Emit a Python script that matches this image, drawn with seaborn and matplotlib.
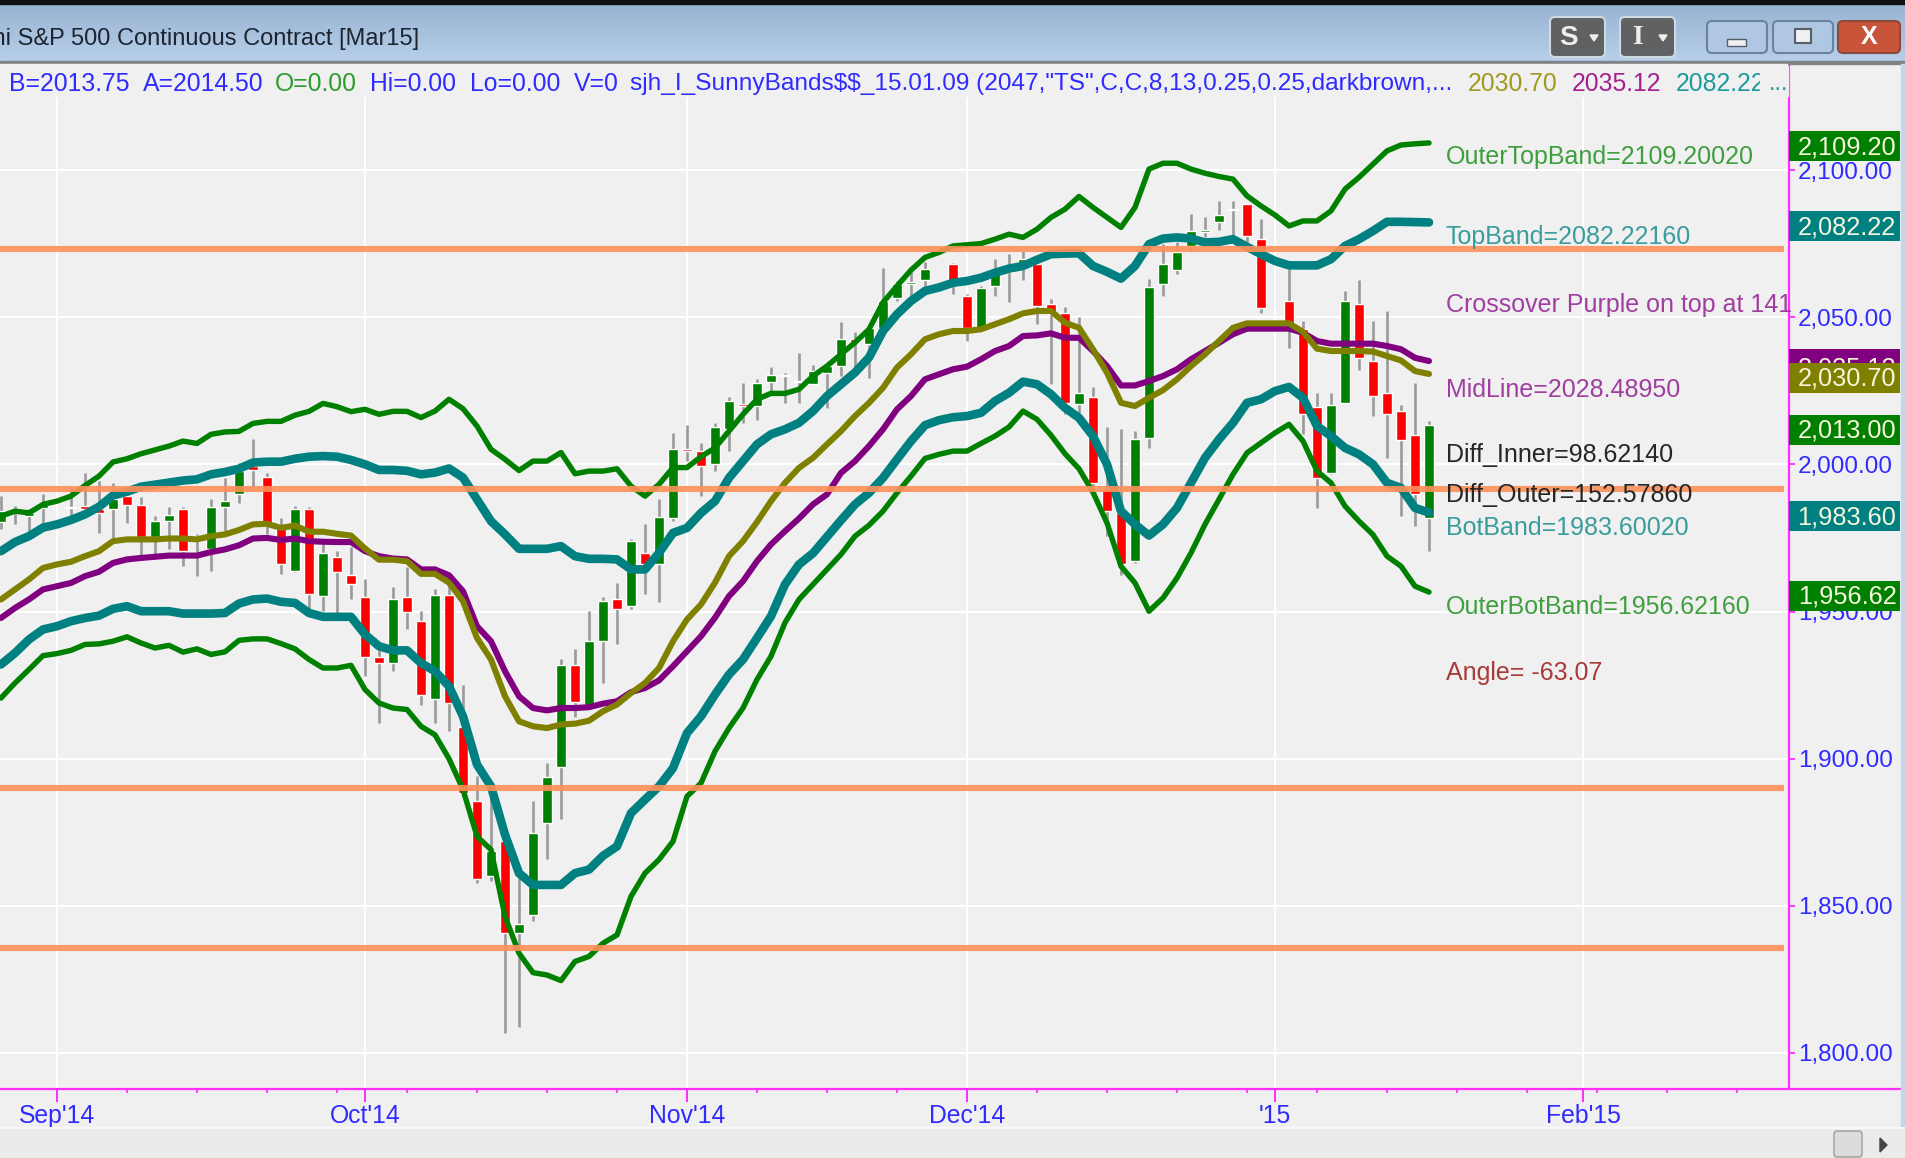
import numpy as np
import pandas as pd
import matplotlib
matplotlib.use('Agg')
import matplotlib.pyplot as plt
from matplotlib.patches import Rectangle, FancyBboxPatch
from matplotlib.ticker import FuncFormatter
import seaborn as sns

nan = float('nan')

# Bars run from index -4 to 98, index 0 is 1 Sep 2014 (no trading on 0, 63, 87)
first_bar = -4

opens = [
    1980.4, 1984.9, 1982.4, 1985.3, nan,
    1985.1, 1986.0, 1984.7, 1984.9, 1989.2, 1986.3, 1975.4, 1980.9, 1984.9, 1973.9,
    1971.1, 1985.6, 1989.8, 1999.4, 1995.8, 1979.0, 1963.9, 1984.9, 1955.2, 1968.5,
    1962.3, 1954.9, 1934.7, 1932.6, 1954.9, 1946.7, 1920.4, 1955.5, 1910.7, 1885.5,
    1860.0, 1871.9, 1840.7, 1846.9, 1878.2, 1897.3, 1931.7, 1918.4, 1940.1, 1954.2,
    1951.7, 1969.8, 1966.0, 1981.6, 2005.3, 2004.5, 2000.0, 2011.9, 2020.6, 2019.7,
    2027.9, 2030.4, 2028.3, 2027.4, 2031.2, 2033.3, 2042.7, 2040.8, 2046.2, 2056.4,
    2061.3, 2062.6, nan, 2068.0, 2057.1, 2046.4, 2060.6, 2065.3, 2067.4, 2068.0,
    2054.4, 2051.5, 2020.4, 2023.0, 1991.5, 1983.5, 1967.3, 2008.8, 2061.2, 2065.9,
    2074.2, 2079.1, 2082.4, 2086.9, 2088.3, 2076.7, nan, 2055.5, 2045.9, 2019.6,
    1997.2, 2021.0, 2054.4, 2035.1, 2024.3, 2018.1, 2009.9, 1981.6,
]
closes = [
    1984.1, 1984.1, 1983.5, 1987.0, nan,
    1985.5, 1984.9, 1983.5, 1988.1, 1986.3, 1975.4, 1980.7, 1982.8, 1970.7, 1975.6,
    1985.5, 1987.5, 1997.7, 1998.0, 1980.1, 1966.0, 1984.7, 1955.8, 1969.9, 1963.3,
    1959.2, 1934.7, 1932.5, 1954.2, 1949.7, 1921.8, 1955.5, 1919.0, 1888.3, 1859.2,
    1868.5, 1840.7, 1843.9, 1874.6, 1893.7, 1931.7, 1919.1, 1939.9, 1953.5, 1951.0,
    1973.9, 1966.0, 1982.1, 2005.2, 2004.7, 1999.3, 2012.7, 2021.5, 2019.7, 2027.6,
    2030.4, 2029.9, 2027.9, 2031.7, 2033.4, 2042.6, 2041.6, 2046.2, 2055.5, 2061.4,
    2061.8, 2066.4, nan, 2062.3, 2046.3, 2059.8, 2066.3, 2067.0, 2069.9, 2053.7,
    2051.0, 2020.9, 2024.3, 1993.7, 1984.3, 1966.0, 2008.7, 2060.4, 2068.0, 2072.0,
    2079.3, 2079.5, 2084.8, 2086.5, 2077.5, 2053.0, nan, 2048.1, 2017.0, 1995.2,
    2020.3, 2055.5, 2036.0, 2023.1, 2017.0, 2008.1, 1989.8, 2013.3,
]
highs = [
    1989.2, 1985.8, 1984.7, 1989.8, nan,
    1992.1, 1997.2, 1994.3, 1993.8, 1992.1, 1989.0, 1982.4, 1985.6, 1985.6, 1976.2,
    1988.3, 1995.5, 2000.6, 2008.7, 1997.2, 1981.9, 1986.0, 1985.6, 1973.3, 1970.5,
    1971.9, 1960.9, 1937.1, 1958.3, 1965.0, 1950.1, 1957.5, 1958.6, 1924.9, 1894.0,
    1890.6, 1873.0, 1859.4, 1885.5, 1898.5, 1933.9, 1937.1, 1950.1, 1955.0, 1959.8,
    1974.7, 1979.6, 1988.3, 2010.7, 2013.3, 2007.3, 2014.1, 2023.0, 2027.7, 2029.1,
    2033.2, 2031.1, 2037.9, 2033.8, 2033.6, 2048.2, 2044.8, 2047.6, 2066.6, 2062.3,
    2066.9, 2068.6, nan, 2068.5, 2057.8, 2060.6, 2069.9, 2071.4, 2072.5, 2070.8,
    2056.3, 2053.6, 2050.1, 2026.4, 2012.8, 2012.1, 2011.3, 2062.9, 2074.8, 2075.4,
    2085.0, 2084.2, 2089.5, 2089.5, 2088.4, 2083.5, nan, 2066.3, 2048.7, 2024.3,
    2024.3, 2058.9, 2062.5, 2048.7, 2052.1, 2020.0, 2027.7, 2014.7,
]
lows = [
    1978.1, 1979.6, 1975.6, 1979.0, nan,
    1981.9, 1984.7, 1976.8, 1974.5, 1980.1, 1968.8, 1968.8, 1971.3, 1965.4, 1962.0,
    1963.9, 1977.3, 1987.0, 1992.1, 1976.2, 1962.6, 1963.4, 1950.7, 1950.1, 1949.5,
    1954.3, 1928.0, 1912.1, 1929.9, 1944.1, 1918.4, 1912.1, 1909.5, 1887.0, 1857.7,
    1858.3, 1806.7, 1808.7, 1844.7, 1865.9, 1879.5, 1914.2, 1917.8, 1925.7, 1938.8,
    1950.9, 1955.8, 1953.2, 1980.7, 2001.1, 1989.1, 1997.9, 2004.7, 2014.1, 2014.9,
    2024.3, 2020.9, 2020.9, 2027.2, 2019.0, 2030.0, 2032.9, 2029.2, 2045.9, 2055.5,
    2056.7, 2060.1, nan, 2057.8, 2041.9, 2045.9, 2057.2, 2055.0, 2062.7, 2047.6,
    2027.2, 2017.0, 2017.5, 1991.5, 1975.6, 1962.5, 1966.5, 2005.4, 2057.2, 2064.6,
    2072.5, 2077.4, 2079.5, 2077.1, 2075.4, 2051.5, nan, 2039.4, 2010.2, 1985.0,
    1996.6, 2020.9, 2031.9, 2016.4, 2002.0, 1982.4, 1979.0, 1970.7,
]

outer_top = [
    1982.4, 1984.1, 1983.5, 1986.4, 1987.5,
    1989.2, 1992.8, 1996.0, 2000.8, 2001.9, 2003.6, 2004.9, 2006.2, 2007.9, 2007.1,
    2010.2, 2011.0, 2011.2, 2013.9, 2014.6, 2014.6, 2016.7, 2018.0, 2020.7, 2019.6,
    2017.9, 2018.7, 2017.0, 2018.0, 2018.0, 2015.9, 2018.1, 2022.1, 2018.9, 2013.0,
    2005.1, 2001.7, 1997.9, 2001.1, 2001.1, 2004.0, 1996.8, 1997.7, 1997.7, 1998.5,
    1992.6, 1989.2, 1993.2, 1998.9, 1998.9, 2002.6, 2005.6, 2011.3, 2017.0, 2022.1,
    2024.1, 2024.1, 2025.5, 2030.0, 2033.4, 2037.4, 2041.4, 2045.9, 2055.0, 2060.6,
    2066.0, 2070.3, 2072.0, 2074.2, 2074.6, 2075.0, 2076.5, 2078.2, 2077.1, 2079.9,
    2083.9, 2086.7, 2091.0, 2087.3, 2083.9, 2080.5, 2087.3, 2100.3, 2102.3, 2102.3,
    2100.3, 2098.9, 2097.8, 2096.9, 2091.2, 2087.8, 2084.7, 2081.0, 2082.7, 2082.7,
    2086.1, 2093.5, 2097.5, 2102.0, 2106.5, 2108.5, 2108.9, 2109.2,
]
top_band = [
    1970.5, 1973.6, 1975.6, 1978.5, 1979.6,
    1981.1, 1983.0, 1985.6, 1989.4, 1990.7, 1992.4, 1993.1, 1993.8, 1994.5, 1994.9,
    1996.6, 1997.4, 1998.5, 2000.6, 2000.9, 2000.9, 2001.9, 2002.6, 2002.8, 2002.6,
    2001.5, 2000.0, 1998.1, 1998.1, 1997.8, 1996.6, 1997.2, 1998.6, 1995.5, 1988.1,
    1980.7, 1976.2, 1971.3, 1971.3, 1971.3, 1972.2, 1968.8, 1967.9, 1967.9, 1967.7,
    1964.3, 1964.3, 1969.9, 1976.7, 1978.4, 1983.5, 1987.5, 1995.4, 2001.1, 2006.8,
    2010.2, 2011.9, 2014.1, 2018.1, 2023.2, 2027.2, 2031.2, 2036.3, 2045.3, 2051.0,
    2055.5, 2058.9, 2060.1, 2061.7, 2062.3, 2063.4, 2065.1, 2066.5, 2067.4, 2069.5,
    2071.4, 2071.6, 2071.7, 2067.4, 2065.4, 2063.1, 2067.4, 2074.8, 2076.7, 2077.1,
    2076.7, 2075.4, 2075.6, 2076.5, 2073.9, 2071.4, 2069.1, 2067.6, 2067.6, 2067.6,
    2069.7, 2074.2, 2076.5, 2079.3, 2082.4, 2082.4, 2082.3, 2082.2,
]
olive_line = [
    1954.1, 1957.5, 1960.9, 1964.8, 1966.0,
    1966.9, 1968.8, 1970.5, 1973.9, 1974.5, 1974.5, 1974.5, 1974.8, 1974.8, 1974.5,
    1975.6, 1976.2, 1977.7, 1979.6, 1979.8, 1978.4, 1979.2, 1977.1, 1977.1, 1976.4,
    1975.8, 1971.4, 1967.6, 1967.6, 1967.1, 1962.8, 1962.8, 1959.8, 1953.5, 1941.0,
    1933.7, 1921.2, 1912.7, 1911.0, 1910.4, 1911.6, 1911.9, 1912.9, 1916.1, 1918.4,
    1922.3, 1925.7, 1930.8, 1939.9, 1947.3, 1952.4, 1959.8, 1968.8, 1973.9, 1980.4,
    1987.5, 1993.7, 1998.8, 2002.2, 2006.8, 2011.3, 2016.4, 2020.9, 2026.0, 2032.9,
    2037.4, 2042.5, 2044.2, 2045.3, 2045.3, 2045.9, 2047.6, 2049.3, 2051.3, 2052.1,
    2052.1, 2048.1, 2046.4, 2039.1, 2031.1, 2020.9, 2019.8, 2022.6, 2025.2, 2028.9,
    2033.4, 2037.4, 2041.9, 2046.4, 2047.9, 2047.9, 2047.9, 2047.9, 2045.0, 2039.3,
    2038.5, 2038.5, 2038.5, 2038.3, 2036.8, 2035.3, 2031.7, 2030.7,
]
mid_line = [
    1947.8, 1951.2, 1954.1, 1957.5, 1958.6,
    1959.7, 1962.0, 1963.5, 1966.5, 1967.7, 1968.2, 1968.6, 1969.0, 1969.0, 1969.0,
    1970.2, 1971.1, 1972.5, 1974.8, 1975.0, 1974.3, 1974.8, 1973.9, 1973.7, 1973.6,
    1973.6, 1970.5, 1968.8, 1968.0, 1967.7, 1964.3, 1964.3, 1962.3, 1956.9, 1945.0,
    1939.9, 1929.7, 1921.2, 1917.2, 1916.4, 1917.2, 1917.2, 1917.5, 1918.7, 1919.5,
    1922.6, 1924.0, 1926.6, 1931.4, 1936.5, 1941.6, 1947.9, 1955.2, 1960.3, 1967.1,
    1972.8, 1977.3, 1981.6, 1986.4, 1989.8, 1997.1, 2001.1, 2006.2, 2011.9, 2018.7,
    2023.2, 2028.9, 2030.6, 2032.3, 2033.2, 2035.7, 2038.5, 2040.2, 2043.6, 2043.8,
    2044.5, 2043.0, 2043.0, 2038.5, 2033.4, 2026.8, 2026.8, 2028.3, 2030.0, 2032.3,
    2035.7, 2038.5, 2041.3, 2044.2, 2046.1, 2046.1, 2046.1, 2046.1, 2044.7, 2041.9,
    2041.0, 2041.0, 2041.0, 2041.0, 2040.2, 2039.1, 2036.2, 2035.1,
]
bot_band = [
    1932.0, 1935.9, 1940.5, 1943.9, 1945.0,
    1946.7, 1947.8, 1948.6, 1950.9, 1951.8, 1950.1, 1950.1, 1950.1, 1949.3, 1949.3,
    1949.3, 1949.5, 1952.7, 1954.1, 1954.4, 1953.3, 1952.9, 1949.5, 1948.2, 1948.2,
    1948.2, 1942.2, 1938.2, 1936.8, 1936.8, 1932.5, 1929.7, 1924.6, 1914.4, 1898.0,
    1890.6, 1874.2, 1861.1, 1857.1, 1857.1, 1857.1, 1861.1, 1862.3, 1867.0, 1870.2,
    1881.5, 1886.1, 1890.6, 1896.8, 1908.7, 1914.4, 1921.8, 1928.6, 1933.7, 1941.0,
    1948.4, 1959.2, 1966.0, 1969.8, 1975.4, 1981.0, 1986.4, 1990.3, 1995.4, 2001.7,
    2007.9, 2013.3, 2015.0, 2016.0, 2016.4, 2017.5, 2021.5, 2024.3, 2028.1, 2027.2,
    2023.8, 2019.2, 2015.8, 2009.6, 2000.0, 1984.1, 1979.6, 1975.8, 1979.6, 1985.2,
    1993.7, 2002.2, 2008.5, 2014.1, 2020.9, 2022.1, 2024.9, 2026.3, 2022.6, 2013.0,
    2009.6, 2005.6, 2003.4, 2000.0, 1993.7, 1992.0, 1985.2, 1983.6,
]
outer_bot = [
    1920.6, 1925.7, 1930.3, 1935.0, 1935.7,
    1936.8, 1938.8, 1939.0, 1939.9, 1941.4, 1939.3, 1937.6, 1938.5, 1936.2, 1937.3,
    1935.4, 1936.3, 1940.2, 1940.7, 1940.7, 1939.1, 1937.3, 1933.7, 1930.8, 1930.8,
    1931.7, 1923.5, 1918.9, 1917.2, 1916.7, 1911.0, 1908.1, 1900.0, 1889.5, 1873.6,
    1869.1, 1846.4, 1833.9, 1827.3, 1826.5, 1824.6, 1831.1, 1832.8, 1837.3, 1840.1,
    1853.2, 1861.1, 1865.7, 1871.9, 1887.2, 1891.7, 1902.5, 1910.4, 1917.2, 1926.9,
    1934.8, 1946.2, 1954.1, 1959.2, 1964.3, 1969.4, 1975.6, 1979.3, 1984.1, 1990.3,
    1996.0, 2002.0, 2003.4, 2004.5, 2004.5, 2007.1, 2009.6, 2012.7, 2018.1, 2015.3,
    2009.9, 2003.6, 1998.5, 1990.5, 1980.1, 1965.4, 1959.7, 1950.1, 1954.6, 1961.4,
    1969.9, 1979.6, 1988.1, 1996.6, 2003.9, 2007.3, 2010.7, 2013.6, 2007.9, 1997.7,
    1993.7, 1985.8, 1980.7, 1976.1, 1968.8, 1965.4, 1958.6, 1956.6,
]

support_levels = [2073.1, 1991.5, 1890.1, 1835.7]

price_ticks = [1800, 1850, 1900, 1950, 2000, 2050, 2100]
month_bars = [0, 22, 45, 65, 87, 109]
month_labels = ["Sep'14", "Oct'14", "Nov'14", "Dec'14", "'15", "Feb'15"]
minor_bars = list(range(0, 125, 5))

last_values = [2035.12, 2030.70, 2109.20, 2082.22, 2013.00, 1983.60, 1956.62]
last_colors = ['#800080', '#808000', '#008000', '#008080', '#008000', '#008080', '#008000']

FW, FH = 1905, 1158
AX_RIGHT, AX_TOP, AX_BOTTOM = 1789, 64, 1089
BG = '#f0f0f0'
MAGENTA = '#ff2dff'
BLUE = '#2f2aff'
FONT = 'Liberation Sans'

sns.set_theme(style='white')
plt.rcParams['font.family'] = FONT

fig = plt.figure(figsize=(FW / 100, FH / 100), dpi=100, facecolor=BG)
ax = fig.add_axes([0, 1 - AX_BOTTOM / FH, AX_RIGHT / FW, (AX_BOTTOM - AX_TOP) / FH], facecolor=BG)

bars = np.arange(first_bar, first_bar + len(closes))
candles = pd.DataFrame({'bar': bars, 'open': opens, 'close': closes, 'high': highs, 'low': lows}).dropna()

# wicks, then bodies
ax.vlines(candles['bar'], candles['low'], candles['high'], color='#9a9a9a', lw=1.9, zorder=2)
up = candles['close'] >= candles['open']
body_colors = np.where(up, '#008000', '#ff0000')
ax.bar(candles['bar'], (candles['close'] - candles['open']).abs(),
       bottom=candles[['open', 'close']].min(axis=1), width=0.76, color=body_colors, zorder=3)

bands = [
    (outer_top, '#008000', 3.9),
    (outer_bot, '#008000', 3.9),
    (mid_line, '#800080', 4.4),
    (olive_line, '#808000', 4.4),
    (top_band, '#008080', 6.2),
    (bot_band, '#008080', 6.2),
]
for values, color, width in bands:
    df = pd.DataFrame({'bar': bars, 'price': values})
    sns.lineplot(data=df, x='bar', y='price', ax=ax, color=color, lw=width, zorder=4,
                 estimator=None, sort=False, solid_capstyle='round')

for level in support_levels:
    ax.axhline(level, xmin=0, xmax=1784 / AX_RIGHT, color='#ff9058', alpha=0.9, lw=4.4, zorder=5,
               solid_capstyle='butt')

ax.set_xlim(-57 / 14, (AX_RIGHT - 57) / 14)
ax.set_ylim(1800 - (AX_BOTTOM - 1053) / 2.943, 2100 + (170 - AX_TOP) / 2.943)
ax.set_xlabel('')
ax.set_ylabel('')

ax.set_axisbelow(True)
ax.set_yticks(price_ticks)
ax.yaxis.set_major_formatter(FuncFormatter(lambda v, _: f'{v:,.2f}'))
ax.yaxis.tick_right()
ax.set_xticks(month_bars)
ax.set_xticklabels(month_labels)
ax.set_xticks(minor_bars, minor=True)
ax.grid(True, which='major', color='white', lw=1.5)
ax.tick_params(axis='y', which='major', length=4.5, width=1.3, color=MAGENTA, labelcolor=BLUE,
               labelsize=17.5, pad=2, right=True, left=False)
ax.tick_params(axis='x', which='major', length=9.5, width=1.4, color=MAGENTA, labelcolor=BLUE,
               labelsize=17.8, pad=1, bottom=True)
ax.tick_params(axis='x', which='minor', length=3, width=1.2, color=MAGENTA, bottom=True)
for side in ['left', 'top']:
    ax.spines[side].set_visible(False)
for side in ['right', 'bottom']:
    ax.spines[side].set_visible(True)
    ax.spines[side].set_color(MAGENTA)
    ax.spines[side].set_linewidth(1.6)

# last value boxes on the price scale
trans = ax.get_yaxis_transform()
for n, (value, color) in enumerate(zip(last_values, last_colors)):
    centre = value - 1.2
    ax.add_patch(Rectangle((1.0, centre - 5.1), 111 / AX_RIGHT, 10.2, transform=trans, facecolor=color,
                           edgecolor='none', clip_on=False, zorder=6 + n * 0.1))
    label = ax.text(1847 / AX_RIGHT, centre - 0.4, f'{value:,.2f}', transform=trans, color='#f6f6dc',
                    fontsize=18.3, ha='center', va='center', zorder=6.05 + n * 0.1)
    if n == 0:
        # this one sits half hidden under the next box
        label.set_y(centre - 1.4)

# window chrome, header and study text, in pixel coordinates
chrome = fig.add_axes([0, 0, 1, 1], zorder=5)
chrome.set_axis_off()
chrome.patch.set_alpha(0)
gradient = np.linspace(0, 1, 60).reshape(-1, 1)
cmap = matplotlib.colors.LinearSegmentedColormap.from_list('bar', ['#98b3d1', '#b6cfea'])
chrome.imshow(gradient, extent=(0, FW, 61, 4), cmap=cmap, aspect='auto', zorder=1)
chrome.add_patch(Rectangle((0, 0), FW, 4, color='#111111', zorder=2))
chrome.add_patch(Rectangle((0, 61), FW, 3, color='#7f8286', zorder=2))
chrome.add_patch(Rectangle((0, 64), AX_RIGHT - 2, 32, color=BG, zorder=2))
chrome.add_patch(Rectangle((1901, 64), 4, 1094, color='#c4d6e8', zorder=2))
chrome.add_patch(Rectangle((0, 1128), FW, 30, color='#ebebeb', zorder=2))
chrome.plot([0, FW], [1128, 1128], color='#f8f8f8', lw=1.5, zorder=3)
chrome.plot([AX_RIGHT, 1900], [AX_BOTTOM, AX_BOTTOM], color=MAGENTA, lw=1.6, zorder=3)
chrome.add_patch(FancyBboxPatch((1835, 1132), 26, 24, boxstyle='round,pad=1,rounding_size=3',
                                fc='#dcdcdc', ec='#9a9a9a', lw=1, zorder=3))
chrome.fill([1880, 1887, 1880], [1138, 1145, 1152], color='#444444', zorder=3)


def button(x0, x1, y0, y1, face, edge):
    chrome.add_patch(FancyBboxPatch((x0 + 3, y0 + 3), x1 - x0 - 6, y1 - y0 - 6,
                                    boxstyle='round,pad=3,rounding_size=5', fc=face, ec=edge, lw=1.5, zorder=3))


button(1550, 1605, 17, 57, '#5f6163', '#d0d8e0')
button(1620, 1675, 17, 57, '#5f6163', '#d0d8e0')
button(1707, 1767, 21, 53, '#afc7e2', '#6c829c')
button(1773, 1833, 21, 53, '#afc7e2', '#6c829c')
button(1838, 1900, 21, 53, '#c8553a', '#8c4a3c')
chrome.text(1568, 38, 'S', color='#eeeeee', fontsize=20, fontweight='bold', ha='center', va='center', zorder=4)
chrome.text(1637, 38, 'I', color='#eeeeee', fontsize=20, fontweight='bold', family='Liberation Serif',
            ha='center', va='center', zorder=4)
chrome.fill([1590, 1598, 1594], [35, 35, 41], color='#eeeeee', zorder=4)
chrome.fill([1659, 1667, 1663], [35, 35, 41], color='#eeeeee', zorder=4)
chrome.add_patch(Rectangle((1727, 39), 19, 7, fc='#f0f0f0', ec='#55606e', lw=1, zorder=4))
chrome.add_patch(Rectangle((1795, 29), 16, 14, fc='#f0f0f0', ec='#55606e', lw=1.5, zorder=4))
chrome.text(1869, 37, 'X', color='white', fontsize=18, fontweight='bold', ha='center', va='center', zorder=4)

chrome.text(419, 39, 'E-mini S&P 500 Continuous Contract [Mar15]', color='#1c2430', fontsize=17,
            ha='right', va='center', zorder=4)

header_items = [
    (9, 'B=2013.75', BLUE, 17.8),
    (143, 'A=2014.50', BLUE, 17.8),
    (275, 'O=0.00', '#2c9c2c', 17.8),
    (370, 'Hi=0.00', BLUE, 17.8),
    (470, 'Lo=0.00', BLUE, 17.8),
    (574, 'V=0', BLUE, 17.8),
    (630, 'sjh_I_SunnyBands$$_15.01.09 (2047,"TS",C,C,8,13,0.25,0.25,darkbrown,...', BLUE, 17.6),
    (1468, '2030.70', '#a09a20', 17.8),
    (1572, '2035.12', '#a3208f', 17.8),
    (1676, '2082.22', '#1f9a9a', 17.8),
]
for x, text, color, size in header_items:
    chrome.text(x, 84, text, color=color, fontsize=size, ha='left', va='center', zorder=4, parse_math=False)
chrome.add_patch(Rectangle((1760, 66), 28, 30, color=BG, zorder=5))
chrome.text(1769, 84, '...', color='#1f9a9a', fontsize=17, ha='left', va='center', zorder=6)

study_items = [
    (157, 'OuterTopBand=2109.20020', '#3f9f3f'),
    (237, 'TopBand=2082.22160', '#3a9c9c'),
    (305, 'Crossover Purple on top at 141', '#a03fa0'),
    (390, 'MidLine=2028.48950', '#a03fa0'),
    (455, 'Diff_Inner=98.62140', '#262626'),
    (495, 'Diff_Outer=152.57860', '#262626'),
    (528, 'BotBand=1983.60020', '#3a9c9c'),
    (607, 'OuterBotBand=1956.62160', '#3f9f3f'),
    (673, 'Angle= -63.07', '#a83a3a'),
]
for y, text, color in study_items:
    chrome.text(1446, y, text, color=color, fontsize=18, ha='left', va='center', zorder=4)

chrome.set_xlim(0, FW)
chrome.set_ylim(FH, 0)

fig.savefig('out.png', dpi=100, facecolor=fig.get_facecolor())
